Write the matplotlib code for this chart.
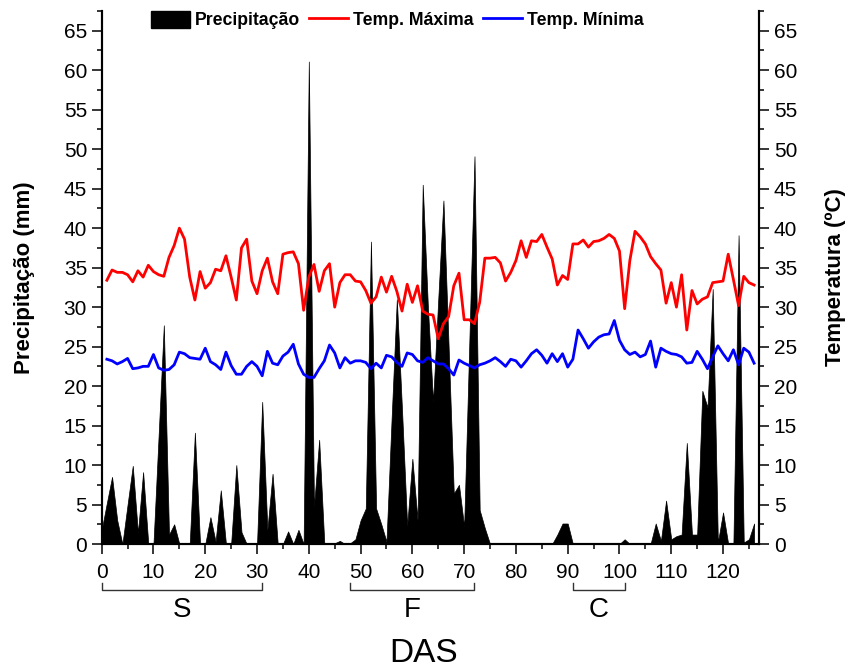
# Precipitação e temperaturas diárias ao longo do ciclo (DAS)
import matplotlib.pyplot as plt
import matplotlib.transforms as mtransforms
from matplotlib.patches import Patch
from matplotlib.lines import Line2D
import numpy as np

plt.rcParams['font.family'] = ['Liberation Sans', 'DejaVu Sans']

# precipitação (mm), dias 0..126
precip = [1.8, 5.2, 8.5, 3.0, 0, 5.0, 9.9, 1.4, 9.1, 0,
          0, 13.8, 27.7, 1.2, 2.5, 0, 0, 0, 14.1, 0,
          0, 3.4, 0.3, 6.8, 0, 0, 10.0, 1.5, 0, 0,
          0, 18.0, 1.8, 8.9, 0, 0, 1.6, 0, 1.8, 0,
          61.1, 4.7, 13.2, 0, 0, 0.1, 0.4, 0, 0.1, 0.6,
          3.0, 4.5, 38.3, 4.5, 2.5, 0.3, 16.0, 31.0, 17.0, 2.3,
          10.8, 3.0, 45.5, 30.0, 18.0, 31.0, 43.5, 25.0, 6.4, 7.5,
          2.2, 25.5, 49.1, 4.3, 2.0, 0, 0, 0, 0, 0,
          0, 0, 0, 0, 0, 0, 0, 0, 1.2, 2.6,
          2.6, 0, 0, 0, 0, 0, 0, 0, 0, 0,
          0, 0.6, 0, 0, 0, 0, 0, 2.6, 0.4, 5.5,
          0.6, 1.0, 1.2, 12.8, 1.2, 1.2, 19.4, 17.3, 32.3, 0.2,
          4.0, 0, 0, 39.1, 0.2, 0.6, 2.6]
dias_p = np.arange(len(precip))

# temperatura máxima (ºC), dias 1..126
tmax = [33.4, 34.7, 34.4, 34.4, 34.1, 33.2, 34.6, 33.8, 35.3, 34.5,
        34.1, 33.9, 36.3, 37.8, 40.0, 38.6, 33.8, 30.9, 34.5, 32.4,
        33.1, 34.8, 34.6, 36.5, 33.8, 30.9, 37.5, 38.6, 33.3, 31.7,
        34.6, 36.2, 33.2, 31.7, 36.7, 36.9, 37.0, 35.5, 29.6, 33.8,
        35.4, 32.0, 34.6, 35.5, 30.0, 33.1, 34.1, 34.1, 33.3, 33.2,
        32.1, 30.5, 31.3, 33.8, 31.9, 33.9, 32.0, 29.5, 32.9, 30.6,
        32.7, 29.5, 29.1, 29.0, 26.0, 27.9, 28.8, 32.7, 34.3, 28.4,
        28.4, 27.9, 30.6, 36.2, 36.2, 36.3, 35.6, 33.3, 34.4, 35.9,
        38.4, 36.3, 38.4, 38.3, 39.2, 37.6, 36.1, 32.8, 34.0, 33.5,
        38.0, 38.0, 38.5, 37.6, 38.3, 38.4, 38.7, 39.2, 38.7, 37.1,
        29.8, 35.9, 39.6, 38.9, 38.0, 36.4, 35.5, 34.7, 30.5, 33.1,
        30.0, 34.1, 27.1, 32.1, 30.4, 31.0, 31.3, 33.1, 33.2, 33.3,
        36.7, 33.5, 30.2, 33.9, 33.1, 32.8]

# temperatura mínima (ºC), dias 1..126
tmin = [23.4, 23.2, 22.8, 23.1, 23.5, 22.2, 22.3, 22.5, 22.5, 24.0,
        22.3, 22.0, 22.1, 22.7, 24.3, 24.1, 23.6, 23.5, 23.4, 24.8,
        23.1, 22.7, 22.1, 24.3, 22.6, 21.5, 21.5, 22.5, 23.1, 22.5,
        21.3, 24.4, 22.9, 22.7, 23.8, 24.3, 25.3, 22.8, 21.5, 21.1,
        21.1, 22.2, 23.2, 25.2, 24.2, 22.3, 23.6, 22.9, 23.2, 23.2,
        23.0, 22.2, 22.9, 22.3, 23.9, 23.7, 23.0, 22.5, 24.2, 24.0,
        23.2, 23.0, 23.6, 23.2, 22.8, 22.8, 22.2, 21.4, 23.3, 22.9,
        22.6, 22.3, 22.7, 22.9, 23.2, 23.6, 23.1, 22.5, 23.4, 23.2,
        22.4, 23.2, 24.1, 24.6, 23.9, 22.9, 24.1, 23.1, 24.1, 22.4,
        23.4, 27.1, 26.0, 24.8, 25.6, 26.2, 26.5, 26.6, 28.3, 25.8,
        24.6, 24.0, 24.3, 23.7, 24.0, 25.7, 22.4, 24.8, 24.4, 24.1,
        24.0, 23.7, 22.9, 23.0, 24.4, 23.4, 22.2, 23.7, 25.1, 24.1,
        23.2, 24.6, 22.7, 24.8, 24.3, 22.9]
dias_t = np.arange(1, len(tmax) + 1)

# fases (S, F, C) marcadas abaixo do eixo
fases = ['S', 'F', 'C']
fase_ini = [0, 48, 91]
fase_fim = [31, 72, 101]

fig = plt.figure(figsize=(8.46, 6.69), dpi=100)
ax = fig.add_axes([0.1202, 0.1868, 0.7773, 0.7968])
ax2 = ax.twinx()

ax.fill_between(dias_p, precip, 0, color='black', lw=0.5)
ax2.plot(dias_t, tmax, color='#ff0000', lw=2)
ax2.plot(dias_t, tmin, color='#0000ff', lw=2)

for a in (ax, ax2):
    a.set_xlim(0, 127)
    a.set_ylim(0, 67.5)
    a.set_yticks(np.arange(0, 66, 5))
    a.set_yticks(np.arange(0, 68, 2.5), minor=True)
    a.spines['top'].set_visible(False)
    for s in ('left', 'right', 'bottom'):
        a.spines[s].set_linewidth(1.5)
    a.tick_params(which='major', length=7, width=1.1, labelsize=15)
    a.tick_params(which='minor', length=3.5, width=1.1)

ax.set_xticks(np.arange(0, 121, 10))
ax.set_xticks(np.arange(0, 127, 5), minor=True)
ax.tick_params(axis='x', which='major', pad=7)

ax.set_ylabel('Precipitação (mm)', fontsize=16, fontweight='bold')
ax2.set_ylabel('Temperatura (ºC)', fontsize=16, fontweight='bold')
ax.yaxis.set_label_coords(-0.101, 0.5)
ax2.yaxis.set_label_coords(1.100, 0.5)

# colchetes das fases
tr = mtransforms.blended_transform_factory(ax.transData, ax.transAxes)
for nome, x0, x1 in zip(fases, fase_ini, fase_fim):
    ax.plot([x0, x0, x1, x1], [-0.0737, -0.0863, -0.0863, -0.0737], color='#333333',
            lw=1, transform=tr, clip_on=False)
    ax.text((x0 + x1) / 2, -0.124, nome, transform=tr, ha='center', va='center',
            fontsize=20)
ax.text(0.49, -0.206, 'DAS', transform=ax.transAxes, ha='center', va='center',
        fontsize=24)

handles = [Patch(facecolor='black', edgecolor='black'),
           Line2D([], [], color='#ff0000', lw=2),
           Line2D([], [], color='#0000ff', lw=2)]
labels = ['Precipitação', 'Temp. Máxima', 'Temp. Mínima']
ax2.legend(handles, labels, loc='center left', bbox_to_anchor=(0.075, 0.983),
           ncol=3, frameon=False, prop={'weight': 'bold', 'size': 12.7},
           borderpad=0, borderaxespad=0, handlelength=2.2, handleheight=1.1,
           handletextpad=0.3, columnspacing=0.5)

fig.savefig('out.png', dpi=100)
